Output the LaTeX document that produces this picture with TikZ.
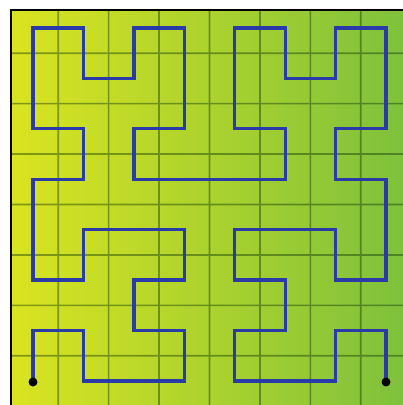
\documentclass[tikz,border=0pt]{standalone}
\begin{document}
\begin{tikzpicture}[x=1pt,y=1pt,
  gridline/.style={draw=black!85!green,line width=1.7pt},
  hilbert/.style={draw=curvecol,line width=3.3pt,line join=miter},
  enddot/.style={circle,fill=black,inner sep=0pt,minimum size=9pt},
  frame/.style={draw=black,line width=2.4pt}]
\definecolor{leftc}{RGB}{218,228,32}
\definecolor{rightc}{RGB}{126,193,60}
\definecolor{curvecol}{RGB}{42,58,168}
\useasboundingbox (0,0) rectangle (403,405);
\shade[left color=leftc,right color=rightc] (11,0) rectangle (403,395);
\begin{scope}[shift={(33pt,24pt)},x=50.43pt,y=50.43pt]
  \begin{scope}[transparency group,opacity=0.4]
  \foreach \g in {0,...,6} {
    \draw[gridline] (\g+0.5,-0.476) -- (\g+0.5,7.357);
    \draw[gridline] (-0.436,\g+0.5) -- (7.34,\g+0.5);
  }
  \end{scope}
  \draw[hilbert] (0,0) -- (0,1) -- (1,1) -- (1,0) -- (2,0) -- (3,0) -- (3,1) -- (2,1) -- (2,2) -- (3,2) -- (3,3) -- (2,3) -- (1,3) -- (1,2) -- (0,2) -- (0,3)
    -- (0,4) -- (1,4) -- (1,5) -- (0,5) -- (0,6) -- (0,7) -- (1,7) -- (1,6) -- (2,6) -- (2,7) -- (3,7) -- (3,6) -- (3,5) -- (2,5) -- (2,4) -- (3,4)
    -- (4,4) -- (5,4) -- (5,5) -- (4,5) -- (4,6) -- (4,7) -- (5,7) -- (5,6) -- (6,6) -- (6,7) -- (7,7) -- (7,6) -- (7,5) -- (6,5) -- (6,4) -- (7,4)
    -- (7,3) -- (7,2) -- (6,2) -- (6,3) -- (5,3) -- (4,3) -- (4,2) -- (5,2) -- (5,1) -- (4,1) -- (4,0) -- (5,0) -- (6,0) -- (6,1) -- (7,1) -- (7,0);
  \node[enddot] (start) at (0,-0.02) {};
  \node[enddot] (end) at (7,-0.02) {};
\end{scope}
\draw[frame] (11,0) -- (11,395) -- (403,395);
\end{tikzpicture}
\end{document}
